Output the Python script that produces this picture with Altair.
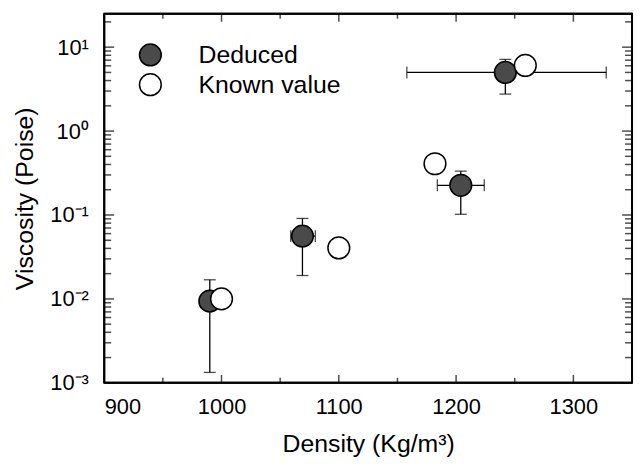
import altair as alt
import pandas as pd

# ---- data ----
ded_density = [990, 1069, 1204, 1242]
ded_visc = [0.0094, 0.056, 0.226, 5.0]
ded_visc_lo = [0.00133, 0.019, 0.102, 2.76]
ded_visc_hi = [0.0169, 0.091, 0.333, 7.15]
ded_dens_lo = [None, 1059, 1184, 1158]
ded_dens_hi = [None, 1080, 1224, 1328]

known_density = [1000, 1100, 1182, 1259]
known_visc = [0.010, 0.0405, 0.408, 6.06]

series_names = ["Deduced", "Known value"]

x_domain = [900, 1350]
y_domain = [0.001, 25]
x_label_values = [900, 1000, 1100, 1200, 1300]
x_tick_major = [900, 1000, 1100, 1200, 1300]
x_tick_minor = [950, 1050, 1150, 1250]
y_label_values = [0.001, 0.01, 0.1, 1, 10]
y_tick_major = [0.001, 0.01, 0.1, 1, 10]
y_tick_minor = [k * 10.0 ** e for e in range(-3, 2) for k in range(2, 10) if k * 10.0 ** e <= 25]

W, H = 532, 372
FONT = "Liberation Sans"
XT = "Density (Kg/m³)"
YT = "Viscosity (Poise)"

xs = alt.Scale(domain=x_domain, nice=False, zero=False)
ys = alt.Scale(type="log", domain=y_domain, nice=False)

pts = pd.DataFrame({
    "density": ded_density + known_density,
    "visc": ded_visc + known_visc,
    "series": [series_names[0]] * len(ded_density) + [series_names[1]] * len(known_density),
})
vbar = pd.DataFrame({"density": ded_density, "lo": ded_visc_lo, "hi": ded_visc_hi})
vcaps = pd.DataFrame({"density": ded_density * 2, "v": ded_visc_lo + ded_visc_hi})
hb = pd.DataFrame({"visc": ded_visc, "lo": ded_dens_lo, "hi": ded_dens_hi}).dropna()
hcaps = pd.DataFrame({"d": list(hb["lo"]) + list(hb["hi"]), "visc": list(hb["visc"]) * 2})

xaxis = alt.Axis(values=x_label_values, format="d", ticks=False, domain=False, grid=False,
                 labelFont=FONT, labelFontSize=22, labelColor="black", labelPadding=14,
                 title=XT, titleFont=FONT, titleFontSize=25,
                 titleFontWeight="normal", titleColor="black", titlePadding=14)
label_expr = ("datum.value < 0.005 ? '10⁻³' : datum.value < 0.05 ? '10⁻²' : "
              "datum.value < 0.5 ? '10⁻¹' : datum.value < 5 ? '10⁰' : '10¹'")
yaxis = alt.Axis(values=y_label_values, ticks=False, domain=False, grid=False,
                 labelExpr=label_expr, labelFont=FONT, labelFontSize=22, labelColor="black",
                 labelPadding=16, title=YT, titleFont=FONT, titleFontSize=25,
                 titleFontWeight="normal", titleColor="black", titlePadding=12)

X = lambda f: alt.X(f, scale=xs, title=XT)
Y = lambda f: alt.Y(f, scale=ys, title=YT)

# ---- inward frame ticks, placed on the domain edges with pixel offsets ----
TW = 1.5
def xtick_layers(vals, length):
    bot = pd.DataFrame({"tx": vals, "ty": [y_domain[0]] * len(vals)})
    top = pd.DataFrame({"tx": vals, "ty": [y_domain[1]] * len(vals)})
    return [
        alt.Chart(bot).mark_tick(color="black", orient="vertical", size=length,
                                 thickness=TW, yOffset=-length / 2).encode(x=X("tx:Q"), y=Y("ty:Q")),
        alt.Chart(top).mark_tick(color="black", orient="vertical", size=length,
                                 thickness=TW, yOffset=length / 2).encode(x=X("tx:Q"), y=Y("ty:Q")),
    ]

def ytick_layers(vals, length):
    left = pd.DataFrame({"ty": vals, "tx": [x_domain[0]] * len(vals)})
    right = pd.DataFrame({"ty": vals, "tx": [x_domain[1]] * len(vals)})
    return [
        alt.Chart(left).mark_tick(color="black", orient="horizontal", size=length,
                                  thickness=TW, xOffset=length / 2).encode(x=X("tx:Q"), y=Y("ty:Q")),
        alt.Chart(right).mark_tick(color="black", orient="horizontal", size=length,
                                   thickness=TW, xOffset=-length / 2).encode(x=X("tx:Q"), y=Y("ty:Q")),
    ]

tick_layers = (xtick_layers(x_tick_major, 8) + xtick_layers(x_tick_minor, 5)
               + ytick_layers(y_tick_major, 10) + ytick_layers(y_tick_minor, 7))

# ---- frame drawn on the domain edges ----
fh = pd.DataFrame({"x0": [x_domain[0]] * 2, "x1": [x_domain[1]] * 2, "fy": y_domain})
fv = pd.DataFrame({"fx": x_domain, "y0": [y_domain[0]] * 2, "y1": [y_domain[1]] * 2})
frame_h = alt.Chart(fh).mark_rule(color="black", strokeWidth=2).encode(
    x=X("x0:Q"), x2="x1:Q", y=Y("fy:Q"))
frame_v = alt.Chart(fv).mark_rule(color="black", strokeWidth=2).encode(
    x=X("fx:Q"), y=Y("y0:Q"), y2="y1:Q")

# ---- error bars ----
vrule = alt.Chart(vbar).mark_rule(color="black", strokeWidth=1.3).encode(
    x=X("density:Q"), y=Y("lo:Q"), y2="hi:Q")
vcap = alt.Chart(vcaps).mark_tick(color="black", orient="horizontal", size=12, thickness=1.3).encode(
    x=X("density:Q"), y=Y("v:Q"))
hrule = alt.Chart(hb).mark_rule(color="black", strokeWidth=1.3).encode(
    x=X("lo:Q"), x2="hi:Q", y=Y("visc:Q"))
hcap = alt.Chart(hcaps).mark_tick(color="black", orient="vertical", size=12, thickness=1.3).encode(
    x=X("d:Q"), y=Y("visc:Q"))

# ---- circles (on top) ----
circles = alt.Chart(pts).mark_point(shape="circle", filled=True, size=480, stroke="black",
                                    strokeWidth=1.5, opacity=1).encode(
    x=alt.X("density:Q", scale=xs, axis=xaxis, title=XT),
    y=alt.Y("visc:Q", scale=ys, axis=yaxis, title=YT),
    fill=alt.Fill("series:N", scale=alt.Scale(domain=series_names, range=["#4a4a4a", "white"]),
                  legend=alt.Legend(title=None, orient="none", legendX=34, legendY=29,
                                    symbolType="circle", symbolSize=480,
                                    symbolStrokeColor="black", symbolStrokeWidth=1.5,
                                    symbolOpacity=1,
                                    labelFont=FONT, labelFontSize=25, labelColor="black",
                                    labelOffset=36, rowPadding=1, padding=0)),
)

chart = alt.layer(circles.mark_point(opacity=0, size=1), *tick_layers, frame_h, frame_v,
                  vrule, vcap, hrule, hcap, circles).properties(
    width=W, height=H,
    padding={"left": 5, "top": 3, "right": 2, "bottom": 5},
    background="white",
).configure_view(stroke="black", strokeWidth=2)

chart.save("out.html", embed_options={"renderer": "svg", "actions": False})
